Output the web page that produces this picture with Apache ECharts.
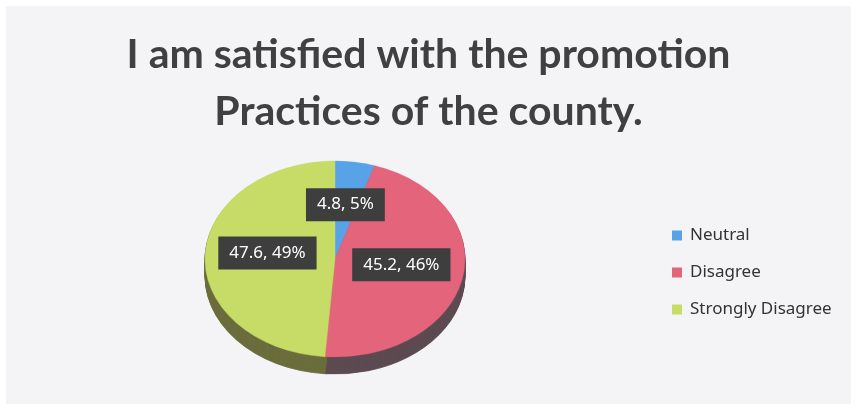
<!DOCTYPE html>
<html>
<head>
<meta charset="utf-8">
<script src="https://cdn.jsdelivr.net/npm/echarts@6/dist/echarts.min.js"></script>
<style>
  html, body { margin: 0; padding: 0; background: #ffffff; }
  #chart { width: 857px; height: 410px; }
</style>
</head>
<body>
<div id="chart"></div>
<script>
// Survey answers for the promotion-practices question
const categories = ['Neutral', 'Disagree', 'Strongly Disagree'];
const values = [4.8, 45.2, 47.6];

// Slice colours (top face) and darker shades for the extruded rim
const topColors = ['#58a2e8', '#e3647b', '#c6dc66'];
const sideColors = ['#3f5f7e', '#5c4a50', '#6a6d3d'];

const total = values.reduce((a, b) => a + b, 0);
const percents = values.map(v => Math.round(v / total * 100));

// Tilted pie layout
const PIE = { cx: 335, cy: 259, rx: 130, ry: 98, depth: 17, labelR: 0.52 };
const squash = PIE.ry / PIE.rx;

function sliceAngles(i) {
  let before = 0;
  for (let k = 0; k < i; k++) before += values[k];
  const a0 = -Math.PI / 2 + 2 * Math.PI * before / total;
  const a1 = a0 + 2 * Math.PI * values[i] / total;
  return [a0, a1];
}

function makeRenderer(i) {
  return function (params, api) {
    const v = api.value(0);
    const [a0, a1] = sliceAngles(i);
    const children = [];
    // rim: stacked copies of the slice, shifted downward
    for (let d = PIE.depth; d >= 1; d--) {
      children.push({
        type: 'sector',
        z2: 1,
        shape: { cx: 0, cy: d / squash, r: PIE.rx, r0: 0, startAngle: a0, endAngle: a1, clockwise: true },
        style: { fill: sideColors[i], stroke: sideColors[i], lineWidth: 1 }
      });
    }
    // top face
    children.push({
      type: 'sector',
      z2: 10,
      shape: { cx: 0, cy: 0, r: PIE.rx, r0: 0, startAngle: a0, endAngle: a1, clockwise: true },
      style: { fill: topColors[i], stroke: topColors[i], lineWidth: 0.5 }
    });
    const mid = (a0 + a1) / 2;
    const lx = PIE.cx + Math.cos(mid) * PIE.rx * PIE.labelR;
    const ly = PIE.cy + Math.sin(mid) * PIE.ry * PIE.labelR - 4;
    return {
      type: 'group',
      children: [
        {
          type: 'group',
          x: PIE.cx,
          y: PIE.cy,
          scaleY: squash,
          children: children
        },
        {
          type: 'text',
          z2: 100,
          x: lx,
          y: ly,
          style: {
            text: v + ', ' + percents[i] + '%',
            fill: '#ffffff',
            font: '17px "Noto Sans", sans-serif',
            align: 'center',
            verticalAlign: 'middle',
            backgroundColor: '#3e3e3e',
            padding: [8, 11, 8, 11]
          }
        }
      ]
    };
  };
}

const chart = echarts.init(document.getElementById('chart'), null, { renderer: 'canvas' });

chart.setOption({
  backgroundColor: '#ffffff',
  animation: false,
  graphic: [
    {
      type: 'rect',
      z: -10,
      shape: { x: 6, y: 6, width: 845, height: 398 },
      style: { fill: '#f4f3f6' }
    }
  ],
  title: {
    text: 'I am satisfied with the promotion\nPractices of the county.',
    left: 'center',
    top: 21,
    padding: [5, 0, 5, 11],
    textStyle: {
      fontFamily: 'Lato',
      fontWeight: 'bold',
      fontSize: 41,
      lineHeight: 57,
      color: '#404040'
    }
  },
  legend: {
    orient: 'vertical',
    left: 667,
    top: 222,
    itemGap: 20,
    itemWidth: 10,
    itemHeight: 10,
    icon: 'rect',
    data: categories,
    textStyle: { fontFamily: '"Noto Sans", sans-serif', fontSize: 17, color: '#333333', padding: [0, 0, 0, 3] }
  },
  series: categories.map((name, i) => ({
    type: 'custom',
    name: name,
    coordinateSystem: 'none',
    itemStyle: { color: topColors[i] },
    renderItem: makeRenderer(i),
    data: [[values[i]]]
  }))
});
</script>
</body>
</html>
